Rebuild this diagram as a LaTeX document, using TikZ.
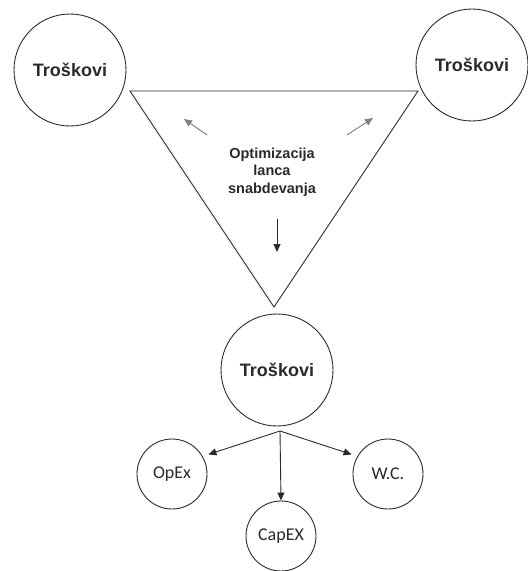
\documentclass[tikz,border=0pt]{standalone}
\usepackage{fontspec}
\setmainfont{Liberation Sans}
\newfontfamily\calfont{Carlito}
\usetikzlibrary{arrows.meta}
\definecolor{ink}{HTML}{2A2A2A}
\definecolor{softink}{HTML}{808080}
\begin{document}
\begin{tikzpicture}[x=1pt,y=-1pt,
  every node/.style={inner sep=0pt},
  bigcircle/.style={circle,draw=ink,line width=0.9pt,minimum size=112pt,
    font=\bfseries\fontsize{18}{20}\selectfont,text=ink},
  smallcircle/.style={circle,draw=ink,line width=0.9pt,minimum size=70pt,
    font=\calfont\fontsize{18}{20}\selectfont,text=ink},
  tip/.style={-{Triangle[length=8pt,width=7pt]}},
  link/.style={tip,draw=ink,line width=0.9pt}]
\useasboundingbox (0,0) rectangle (528,571);

% three cost circles around the triangle
\node[bigcircle] (left)  at (70,70)   {Troškovi};
\node[bigcircle] (right) at (472,65)  {Troškovi};
\node[bigcircle] (below) at (277,370) {Troškovi};

% the inverted triangle
\coordinate (tl) at (130,91);
\coordinate (tr) at (418,91);
\coordinate (tb) at (274,307);
\draw[ink,line width=0.9pt,line join=miter] (tl) -- (tr) -- (tb) -- cycle;

\node[align=center,text=ink,font=\bfseries\fontsize{14.5}{17.5}\selectfont]
  (core) at (272,172) {Optimizacija\\lanca\\snabdevanja};

% arrows pointing from the centre toward each corner
\coordinate (aL0) at (207,135);
\coordinate (aL1) at (184,119);
\coordinate (aR0) at (347,135);
\coordinate (aR1) at (373,118);
\coordinate (aD0) at (277,219);
\coordinate (aD1) at (277,252);
\draw[tip,draw=softink,fill=ink,line width=0.9pt] (aL0) -- (aL1);
\draw[tip,draw=softink,fill=ink,line width=0.9pt] (aR0) -- (aR1);
\draw[link] (aD0) -- (aD1);

% cost components
\node[smallcircle] (opex)  at (172,474) {OpEx};
\node[smallcircle] (capex) at (281,536) {CapEX};
\node[smallcircle] (wc)    at (388,474) {W.C.};

\coordinate (split) at (280,431);
\draw[link,shorten >=6pt] (split) -- (opex.30);
\draw[link] (split) -- (capex.north);
\draw[link,shorten >=6pt] (split) -- (wc.150);
\end{tikzpicture}
\end{document}
